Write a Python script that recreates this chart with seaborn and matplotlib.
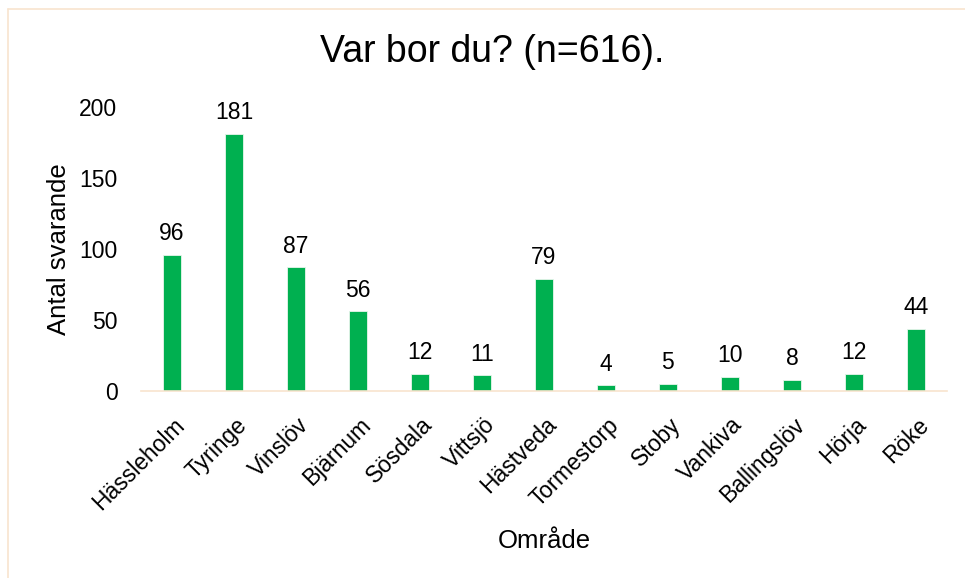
import matplotlib
matplotlib.use("Agg")
import matplotlib.pyplot as plt
import matplotlib.transforms as mtransforms
import seaborn as sns
import pandas as pd

# chart data
areas = ["Hässleholm", "Tyringe", "Vinslöv", "Bjärnum", "Sösdala", "Vittsjö", "Hästveda",
         "Tormestorp", "Stoby", "Vankiva", "Ballingslöv", "Hörja", "Röke"]
counts = [96, 181, 87, 56, 12, 11, 79, 4, 5, 10, 8, 12, 44]
y_ticks = [0, 50, 100, 150, 200]

title = "Var bor du? (n=616)."
x_label = "Område"
y_label = "Antal svarande"

sns.set_theme(style="white")
plt.rcParams["font.family"] = ["Liberation Sans", "DejaVu Sans"]

df = pd.DataFrame({"area": areas, "count": counts})

fig = plt.figure(figsize=(9.65, 5.78), dpi=100)
ax = fig.add_axes([0.1461, 0.3235, 0.8352, 0.4914])

sns.barplot(data=df, x="area", y="count", color="#00B050", width=0.3,
            edgecolor="#E8F5EC", linewidth=0.6, saturation=1, ax=ax)

for cont in ax.containers:
    ax.bar_label(cont, padding=7, fontsize=16.5, color="#000000")

ax.set_ylim(0, 200)
ax.set_xlim(-0.5, len(areas) - 0.5)
ax.set_yticks(y_ticks)
ax.tick_params(axis="y", length=0, pad=17, labelsize=16.5, labelcolor="#000000")
ax.tick_params(axis="x", length=0, pad=16, labelsize=16.5, labelcolor="#000000")
shift = mtransforms.ScaledTranslation(1 / 100, 0, fig.dpi_scale_trans)
for lab in ax.get_xticklabels():
    lab.set_rotation(45)
    lab.set_ha("right")
    lab.set_va("top")
    lab.set_rotation_mode("anchor")
    lab.set_transform(lab.get_transform() + shift)

ax.set_xlabel(x_label, fontsize=18.5, color="#000000", labelpad=11)
ax.set_ylabel(y_label, fontsize=18.5, color="#000000", labelpad=6)
fig.text(0.510, 0.910, title, ha="center", va="center", fontsize=27, color="#000000")

sns.despine(ax=ax, left=True)
ax.spines["bottom"].set_color("#F8E4CE")
ax.spines["bottom"].set_linewidth(1.2)

# light frame around the chart area (right/bottom sides fall outside the image)
fig.add_artist(plt.Line2D([8 / 965, 8 / 965], [0, 1 - 9 / 578], transform=fig.transFigure,
                          color="#F8E4CE", linewidth=1.2))
fig.add_artist(plt.Line2D([8 / 965, 1], [1 - 9 / 578, 1 - 9 / 578], transform=fig.transFigure,
                          color="#F8E4CE", linewidth=1.2))

fig.savefig("out.png", dpi=100)
